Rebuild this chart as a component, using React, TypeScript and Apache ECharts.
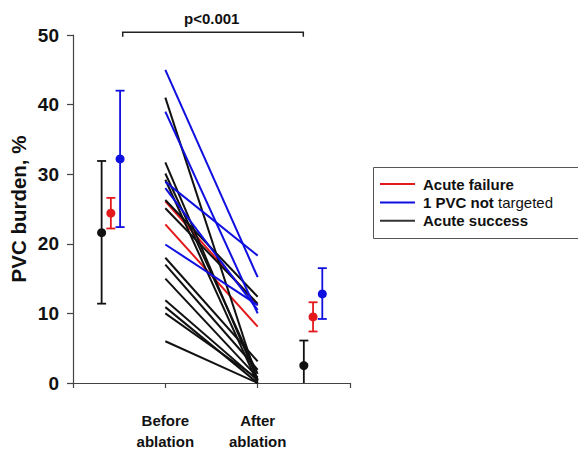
import React, { useEffect, useRef } from "react";
import * as echarts from "echarts";

// ---- data ----
const phaseLabels = ["Before\nablation", "After\nablation"];
const yTicks = [0, 10, 20, 30, 40, 50];

const groupNames = ["Acute failure", "1 PVC not targeted", "Acute success"];

// individual patients: before / after
const failureBefore = [22.8, 26.1];
const failureAfter = [8.1, 11.2];

const notTargetedBefore = [45.0, 39.0, 28.9, 28.0, 19.9];
const notTargetedAfter = [15.2, 10.0, 18.3, 10.5, 11.2];

const successBefore = [41.0, 31.7, 30.1, 29.2, 26.3, 25.1, 18.0, 17.0, 15.0, 11.9, 10.9, 10.0, 6.0];
const successAfter = [0.3, 0.5, 1.3, 0.0, 12.4, 11.4, 3.1, 1.9, 0.8, 0.4, 0.0, 0.6, 0.0];

// summary (mean, lower, upper) per group: [before, after]
const failureMean = [24.4, 9.5];
const failureLow = [22.2, 7.4];
const failureHigh = [26.6, 11.6];

const notTargetedMean = [32.2, 12.8];
const notTargetedLow = [22.4, 9.2];
const notTargetedHigh = [42.0, 16.5];

const successMean = [21.6, 2.5];
const successLow = [11.4, -1.1];
const successHigh = [31.9, 6.1];

// ---- layout / style ----
const FONT = "Arial, 'Liberation Sans', Helvetica, sans-serif";
const COLORS = { failure: "#e3191c", notTargeted: "#0f0fe0", success: "#111111" };
const summaryX = { failure: [0.41, 2.6], notTargeted: [0.51, 2.7], success: [0.31, 2.5] };

export default function App() {
  const ref = useRef<HTMLDivElement>(null);

  useEffect(() => {
    if (!ref.current) return;
    const chart = echarts.init(ref.current, undefined, { renderer: "svg" });

    const groups = [
      { key: "failure", name: groupNames[0], color: COLORS.failure, before: failureBefore, after: failureAfter, mean: failureMean, low: failureLow, high: failureHigh, z: 2 },
      { key: "success", name: groupNames[2], color: COLORS.success, before: successBefore, after: successAfter, mean: successMean, low: successLow, high: successHigh, z: 3 },
      { key: "notTargeted", name: groupNames[1], color: COLORS.notTargeted, before: notTargetedBefore, after: notTargetedAfter, mean: notTargetedMean, low: notTargetedLow, high: notTargetedHigh, z: 4 },
    ];

    const lineSeries: any[] = [];
    groups.forEach((g) => {
      g.before.forEach((b, i) => {
        lineSeries.push({
          type: "line",
          name: g.name,
          data: [[1, b], [2, g.after[i]]],
          symbol: "none",
          silent: true,
          z: g.z,
          lineStyle: { color: g.color, width: 2 },
          itemStyle: { color: g.color },
        });
      });
    });

    const errSeries = groups.map((g) => ({
      type: "custom",
      name: g.name + " summary",
      z: 5,
      silent: true,
      data: [0, 1].map((k) => [(summaryX as any)[g.key][k], g.mean[k], g.low[k], g.high[k]]),
      renderItem: (params: any, api: any) => {
        const x = api.value(0);
        const mean = api.value(1);
        const lo = api.value(2);
        const hi = api.value(3);
        const pHi = api.coord([x, hi]);
        const pLo = api.coord([x, Math.max(lo, 0)]);
        const pM = api.coord([x, mean]);
        const cap = 4.5;
        const st = { stroke: g.color, lineWidth: 1.8 };
        const children: any[] = [
          { type: "line", shape: { x1: pHi[0], y1: pHi[1], x2: pLo[0], y2: pLo[1] }, style: st },
          { type: "line", shape: { x1: pHi[0] - cap, y1: pHi[1], x2: pHi[0] + cap, y2: pHi[1] }, style: st },
        ];
        if (lo >= 0) {
          children.push({ type: "line", shape: { x1: pLo[0] - cap, y1: pLo[1], x2: pLo[0] + cap, y2: pLo[1] }, style: st });
        }
        children.push({ type: "circle", shape: { cx: pM[0], cy: pM[1], r: 4.5 }, style: { fill: g.color } });
        return { type: "group", children };
      },
    }));

    const boxStyle = { stroke: "#555", lineWidth: 1 };

    chart.setOption({
      animation: false,
      textStyle: { fontFamily: FONT },
      grid: { left: 73, top: 35, right: 228, bottom: 65, containLabel: false },
      xAxis: {
        type: "value",
        min: 0,
        max: 3,
        interval: 1,
        splitLine: { show: false },
        axisLine: { lineStyle: { color: "#444", width: 1.2 } },
        axisTick: { show: true, length: 5, lineStyle: { color: "#444", width: 1.2 } },
        axisLabel: {
          margin: 27,
          fontSize: 15,
          fontWeight: "bold",
          color: "#111",
          lineHeight: 21,
          fontFamily: FONT,
          formatter: (v: number) => (v === 1 ? phaseLabels[0] : v === 2 ? phaseLabels[1] : ""),
        },
      },
      yAxis: {
        type: "value",
        min: yTicks[0],
        max: yTicks[yTicks.length - 1],
        interval: 10,
        name: "PVC burden, %",
        nameLocation: "middle",
        nameGap: 44,
        nameTextStyle: { fontSize: 20.5, fontWeight: "bold", color: "#111", fontFamily: FONT },
        splitLine: { show: false },
        axisLine: { show: true, lineStyle: { color: "#444", width: 1.2 } },
        axisTick: { show: true, length: 6, lineStyle: { color: "#444", width: 1.2 } },
        axisLabel: { margin: 14, fontSize: 19, fontWeight: "bold", color: "#111", fontFamily: FONT },
      },
      legend: {
        orient: "vertical",
        left: 373,
        top: 167,
        padding: [9, 0, 9, 7],
        borderWidth: 0,
        itemWidth: 35,
        itemHeight: 2,
        itemGap: 2.4,
        icon: "rect",
        selectedMode: false,
        data: [
          { name: groupNames[0], itemStyle: { color: COLORS.failure } },
          { name: groupNames[1], itemStyle: { color: COLORS.notTargeted } },
          { name: groupNames[2], itemStyle: { color: "#333" } },
        ],
        formatter: (name: string) => (name === groupNames[1] ? "{b|1 PVC not} {n|targeted}" : "{b|" + name + "}"),
        textStyle: {
          padding: [0, 0, 0, 3],
          fontSize: 15,
          lineHeight: 16,
          color: "#111",
          fontFamily: FONT,
          rich: {
            b: { fontSize: 15, fontWeight: "bold", color: "#111", fontFamily: FONT, lineHeight: 16 },
            n: { fontSize: 15, fontWeight: "normal", color: "#111", fontFamily: FONT, lineHeight: 16 },
          },
        },
      },
      graphic: [
        { type: "line", shape: { x1: 373.5, y1: 167.5, x2: 578, y2: 167.5 }, style: boxStyle },
        { type: "line", shape: { x1: 373.5, y1: 167.5, x2: 373.5, y2: 238.5 }, style: boxStyle },
        { type: "line", shape: { x1: 373.5, y1: 238.5, x2: 578, y2: 238.5 }, style: boxStyle },
        {
          type: "polyline",
          shape: { points: [[122.7, 36.7], [122.7, 32.3], [303.3, 32.3], [303.3, 36.7]] },
          style: { stroke: "#222", lineWidth: 1.5, fill: null },
        },
        {
          type: "text",
          x: 211.7,
          y: 18.3,
          style: { text: "p<0.001", fontSize: 15, fontWeight: "bold", fill: "#111", fontFamily: FONT, align: "center", verticalAlign: "middle" },
        },
      ],
      series: [...lineSeries, ...errSeries],
    });

    return () => chart.dispose();
  }, []);

  return <div ref={ref} style={{ position: "absolute", left: 0, top: 0, width: 578, height: 452 }} />;
}
